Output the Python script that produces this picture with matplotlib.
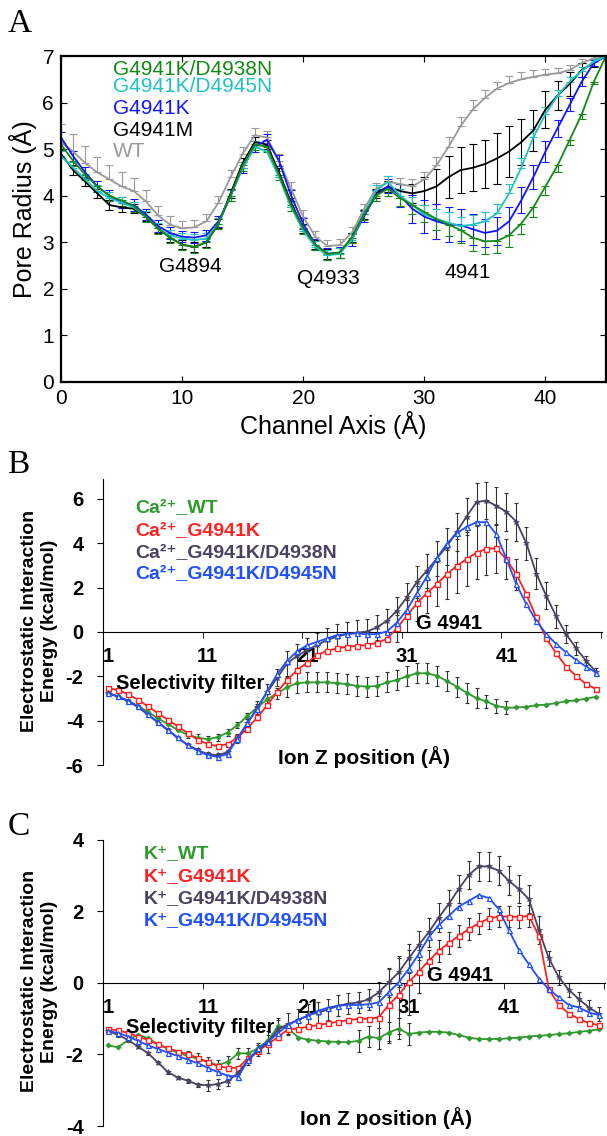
import matplotlib
matplotlib.use('Agg')
import matplotlib.pyplot as plt
import numpy as np

plt.rcParams['font.family'] = ['Liberation Sans', 'DejaVu Sans']
plt.rcParams['axes.unicode_minus'] = False

# ---------------- panel A: pore radius profiles ----------------
chan_x = np.arange(0, 46)

rad_green = [5.1, 4.75, 4.45, 4.2, 4.0, 3.9, 3.78, 3.55, 3.3, 3.1,
             2.95, 2.9, 3.0, 3.4, 4.0, 4.65, 5.1, 5.05, 4.45, 3.8,
             3.3, 2.95, 2.75, 2.78, 3.1, 3.6, 4.0, 4.15, 3.95, 3.8,
             3.65, 3.5, 3.38, 3.26, 3.1, 3.02, 3.03, 3.15, 3.4, 3.75,
             4.2, 4.65, 5.2, 5.75, 6.45, 7.0]
rad_cyan = [4.85, 4.6, 4.35, 4.1, 3.95, 3.85, 3.75, 3.55, 3.3, 3.15,
            3.08, 3.05, 3.08, 3.4, 4.0, 4.6, 5.05, 4.95, 4.4, 3.75,
            3.25, 2.9, 2.72, 2.75, 3.05, 3.6, 4.1, 4.3, 4.0, 3.8,
            3.6, 3.5, 3.42, 3.35, 3.38, 3.45, 3.62, 4.05, 4.6, 5.25,
            5.75, 6.15, 6.45, 6.68, 6.88, 7.0]
rad_blue = [5.25, 4.85, 4.5, 4.2, 4.0, 3.85, 3.8, 3.6, 3.35, 3.2,
            3.12, 3.1, 3.15, 3.45, 4.0, 4.6, 5.05, 5.2, 4.75, 4.0,
            3.4, 2.95, 2.75, 2.78, 3.05, 3.55, 4.0, 4.2, 4.0, 3.72,
            3.55, 3.45, 3.38, 3.37, 3.28, 3.2, 3.25, 3.45, 3.9, 4.4,
            4.95, 5.45, 5.95, 6.45, 6.85, 7.0]
rad_black = [4.9, 4.55, 4.3, 4.05, 3.8, 3.75, 3.72, 3.55, 3.3, 3.1,
             2.95, 2.9, 3.0, 3.4, 4.05, 4.7, 5.15, 5.1, 4.5, 3.85,
             3.3, 2.95, 2.75, 2.77, 3.1, 3.6, 4.05, 4.2, 4.1, 4.05,
             4.1, 4.2, 4.4, 4.55, 4.6, 4.68, 4.8, 4.95, 5.15, 5.4,
             5.85, 6.15, 6.4, 6.7, 6.85, 7.0]
rad_gray = [5.15, 4.95, 4.7, 4.5, 4.35, 4.2, 4.1, 3.88, 3.58, 3.38,
            3.3, 3.32, 3.45, 3.85, 4.4, 4.9, 5.3, 5.25, 4.75, 4.15,
            3.55, 3.12, 2.92, 2.94, 3.2, 3.7, 4.15, 4.3, 4.25, 4.2,
            4.35, 4.65, 5.05, 5.5, 5.85, 6.1, 6.3, 6.42, 6.5, 6.55,
            6.6, 6.63, 6.7, 6.85, 6.95, 7.0]

err_green = [0.12] * 27 + [0.15, 0.18, 0.2, 0.22, 0.24, 0.25, 0.27, 0.28, 0.28, 0.27,
                           0.25, 0.22, 0.2, 0.18, 0.15, 0.12, 0.1, 0.05, 0.0]
err_cyan = [0.12] * 27 + [0.12, 0.15, 0.18, 0.2, 0.22, 0.22, 0.2, 0.2, 0.2, 0.2,
                          0.2, 0.2, 0.18, 0.15, 0.12, 0.1, 0.08, 0.05, 0.0]
err_blue = [0.12] * 27 + [0.15, 0.25, 0.3, 0.35, 0.38, 0.38, 0.35, 0.33, 0.3, 0.3,
                          0.3, 0.28, 0.25, 0.22, 0.18, 0.14, 0.1, 0.06, 0.0]
err_black = [0.1] * 27 + [0.12, 0.15, 0.2, 0.3, 0.38, 0.45, 0.5, 0.5, 0.52, 0.55,
                          0.55, 0.5, 0.45, 0.4, 0.32, 0.25, 0.15, 0.08, 0.0]
err_gray = [0.4, 0.38, 0.36, 0.34, 0.32, 0.3, 0.28, 0.25, 0.2, 0.18,
            0.15, 0.15, 0.15, 0.15, 0.15, 0.15, 0.15, 0.15, 0.15, 0.15,
            0.15, 0.12, 0.12, 0.12, 0.12, 0.12, 0.12, 0.12, 0.12, 0.15,
            0.15, 0.18, 0.2, 0.2, 0.2, 0.18, 0.15, 0.15, 0.15, 0.15,
            0.12, 0.12, 0.1, 0.08, 0.05, 0.0]

names_A = ['G4941K/D4938N', 'G4941K/D4945N', 'G4941K', 'G4941M', 'WT']
colors_A = ['#138a13', '#22c2c2', '#1414ff', 'black', '#9a9a9a']

# ---------------- panels B and C: electrostatic energy ----------------
ion_z = np.arange(1, 51)

ca_wt = [-2.76, -2.9, -3.09, -3.33, -3.59, -3.89, -4.14, -4.41, -4.64, -4.76,
         -4.83, -4.74, -4.53, -4.19, -3.78, -3.39, -3.03, -2.76, -2.48, -2.3,
         -2.27, -2.27, -2.27, -2.3, -2.35, -2.43, -2.46, -2.43, -2.27, -2.16,
         -2.0, -1.86, -1.86, -1.97, -2.2, -2.46, -2.73, -2.98, -3.13, -3.33,
         -3.41, -3.4, -3.37, -3.3, -3.27, -3.2, -3.12, -3.08, -3.0, -2.92]
ca_g4941k = [-2.52, -2.62, -2.8, -3.05, -3.35, -3.65, -3.95, -4.25, -4.55, -4.85,
             -5.05, -5.14, -5.05, -4.75, -4.35, -3.84, -3.29, -2.69, -2.16, -1.71,
             -1.38, -1.04, -0.84, -0.74, -0.66, -0.63, -0.59, -0.48, -0.32, 0.17,
             0.72, 1.29, 1.74, 2.15, 2.6, 2.97, 3.29, 3.57, 3.75, 3.77,
             3.27, 2.6, 1.71, 0.66, -0.29, -0.96, -1.56, -1.98, -2.34, -2.57]
ca_d4938n = [-2.75, -2.92, -3.12, -3.38, -3.72, -4.08, -4.42, -4.78, -5.08, -5.32,
             -5.5, -5.55, -5.42, -4.78, -4.12, -3.4, -2.7, -2.05, -1.41, -1.07,
             -0.81, -0.59, -0.36, -0.21, -0.09, -0.03, 0.02, 0.21, 0.5, 0.96,
             1.56, 2.25, 2.75, 3.3, 3.85, 4.5, 5.2, 5.85, 5.92, 5.68,
             5.42, 4.97, 4.0, 2.63, 1.63, 0.7, -0.1, -0.73, -1.3, -1.79]
ca_d4945n = [-2.75, -2.9, -3.1, -3.35, -3.7, -4.05, -4.4, -4.75, -5.1, -5.35,
             -5.55, -5.62, -5.5, -4.8, -4.1, -3.45, -2.65, -1.89, -1.29, -0.86,
             -0.6, -0.44, -0.29, -0.14, -0.09, -0.06, -0.11, -0.09, 0.02, 0.42,
             0.99, 1.74, 2.49, 3.32, 3.96, 4.44, 4.74, 4.94, 4.95, 4.4,
             3.29, 2.15, 1.26, 0.51, -0.09, -0.54, -0.92, -1.26, -1.56, -1.83]

ca_wt_err = [0.0] * 8 + [0.15] * 8 + [0.25, 0.25] + [0.45] * 20 + [0.3] * 3 + [0.0] * 9
ca_g4941k_err = [0.0] * 29 + [0.6, 0.7, 0.8, 0.9, 1.0, 1.1, 1.2, 1.2, 1.2, 1.2, 1.1, 0.9, 0.7] + [0.0] * 8
ca_d4938n_err = ([0.1] * 13 + [0.2, 0.25, 0.3, 0.35, 0.4] + [0.55] * 11
                 + [0.6, 0.65, 0.7, 0.75, 0.8] + [0.85] * 8
                 + [0.75, 0.7, 0.6, 0.5, 0.4, 0.3, 0.2, 0.15])

k_wt = [-1.75, -1.8, -1.6, -1.45, -1.55, -1.72, -1.85, -1.95, -2.05, -2.12,
        -2.22, -2.3, -2.2, -1.97, -1.97, -1.82, -1.6, -1.2, -1.28, -1.53,
        -1.59, -1.62, -1.64, -1.65, -1.66, -1.62, -1.5, -1.55, -1.39, -1.28,
        -1.43, -1.39, -1.37, -1.37, -1.39, -1.46, -1.53, -1.57, -1.57, -1.57,
        -1.55, -1.53, -1.5, -1.48, -1.46, -1.43, -1.41, -1.37, -1.34, -1.3]
k_g4941k = [-1.29, -1.33, -1.4, -1.5, -1.6, -1.72, -1.83, -1.92, -2.0, -2.1,
            -2.22, -2.33, -2.38, -2.37, -2.1, -1.9, -1.7, -1.51, -1.29, -1.28,
            -1.22, -1.18, -1.13, -1.09, -1.04, -1.01, -1.0, -0.97, -0.62, -0.34,
            0.01, 0.31, 0.61, 0.89, 1.11, 1.31, 1.5, 1.66, 1.8, 1.85,
            1.85, 1.84, 1.87, 1.31, -0.18, -0.62, -0.86, -1.01, -1.13, -1.18]
k_d4938n = [-1.35, -1.45, -1.6, -1.78, -1.97, -2.23, -2.5, -2.65, -2.74, -2.85,
            -2.86, -2.83, -2.74, -2.51, -2.15, -1.9, -1.65, -1.29, -1.15, -1.04,
            -0.9, -0.83, -0.74, -0.64, -0.58, -0.55, -0.46, -0.27, 0.01, 0.29,
            0.68, 1.05, 1.41, 1.82, 2.2, 2.62, 3.01, 3.25, 3.25, 3.13,
            2.85, 2.62, 2.34, 1.47, 0.68, 0.15, -0.2, -0.46, -0.69, -0.87]
k_d4945n = [-1.35, -1.4, -1.5, -1.62, -1.75, -1.85, -1.95, -2.05, -2.15, -2.25,
            -2.38, -2.5, -2.6, -2.62, -2.15, -1.83, -1.65, -1.39, -1.18, -1.03,
            -0.92, -0.78, -0.69, -0.64, -0.62, -0.62, -0.6, -0.55, -0.27, 0.01,
            0.38, 0.8, 1.27, 1.61, 1.87, 2.13, 2.29, 2.45, 2.37, 2.06,
            1.47, 0.92, 0.52, 0.12, -0.18, -0.41, -0.62, -0.69, -0.83, -0.9]

k_wt_err = [0.0] * 8 + [0.15] * 11 + [0.0] * 6 + [0.3] * 6 + [0.0] * 19
k_g4941k_err = [0.0] * 27 + [0.6, 1.0, 1.1, 0.9, 0.6] + [0.3] * 11 + [0.0] * 7
k_d4938n_err = [0.05] * 10 + [0.15] * 6 + [0.3] * 12 + [0.4] * 16 + [0.2] * 6

colors_E = ['#2e9a2e', '#ff2222', '#4a4260', '#1f4fff']

W, H = 607, 1136
fig = plt.figure(figsize=(W / 100, H / 100), dpi=100)

# ---------------- draw A ----------------
axA = fig.add_axes([61 / W, 1 - 382 / H, 545 / W, 326 / H])
series_A = [(rad_gray, err_gray, 4, 'up'), (rad_black, err_black, 3, 'both'),
            (rad_blue, err_blue, 2, 'both'), (rad_cyan, err_cyan, 1, 'up'),
            (rad_green, err_green, 0, 'down')]
for y, e, ci, side in series_A:
    e = np.array(e)
    lo = e if side in ('down', 'both') else np.zeros_like(e)
    up = e if side in ('up', 'both') else np.zeros_like(e)
    axA.errorbar(chan_x, y, yerr=[lo, up], color=colors_A[ci], lw=1.3,
                 elinewidth=0.8, capsize=3, capthick=0.8)

axA.set_xlim(0, 45)
axA.set_ylim(0, 7)
axA.set_xticks([0, 10, 20, 30, 40])
axA.set_yticks(range(8))
axA.tick_params(direction='in', top=True, right=True, length=4, labelsize=15, pad=5)
for sp in axA.spines.values():
    sp.set_linewidth(1.6)
axA.set_ylabel('Pore Radius (Å)', fontsize=18)
axA.yaxis.label.set_va('center')
axA.yaxis.set_label_coords(-0.07, 0.53)
axA.set_xlabel('Channel Axis (Å)', fontsize=18, labelpad=2)

leg_y = [0.960, 0.905, 0.840, 0.773, 0.706]
for name, c, ly in zip(names_A, colors_A, leg_y):
    axA.text(0.095, ly, name, color=c, fontsize=15, va='center', transform=axA.transAxes)
axA.text(10.7, 2.47, 'G4894', fontsize=15, ha='center', va='center')
axA.text(22.1, 2.23, 'Q4933', fontsize=15, ha='center', va='center')
axA.text(33.6, 2.36, '4941', fontsize=15, ha='center', va='center')


def energy_panel(ax, curves, errs, labels, ylim, yticks, leg_x, leg_ys, g_pos, sf_pos, xl_pos):
    markers = [dict(marker='D', ms=2.6, mfc=colors_E[0], mew=0.5),
               dict(marker='s', ms=3.6, mfc='white', mew=1.0),
               dict(marker='*', ms=4.2, mfc=colors_E[2], mew=0.5),
               dict(marker='^', ms=3.6, mfc='white', mew=0.9)]
    for i, y in enumerate(curves):
        if errs[i] is not None:
            ax.errorbar(ion_z, y, yerr=errs[i], fmt='none', ecolor='#333333',
                        elinewidth=0.8, capsize=1.5, capthick=0.8, zorder=2)
    for i, y in enumerate(curves):
        ax.plot(ion_z, y, color=colors_E[i], lw=1.3, mec=colors_E[i], zorder=3, **markers[i])
    ax.set_xlim(0.5, 50.6)
    ax.set_ylim(*ylim)
    ax.spines['top'].set_visible(False)
    ax.spines['right'].set_visible(False)
    ax.spines['bottom'].set_position(('data', 0))
    ax.set_xticks([1, 11, 21, 31, 41])
    ax.set_xticks([10.5, 20.5, 30.5, 40.5, 50.5], minor=True)
    ax.tick_params(axis='x', which='major', length=0, pad=11, labelsize=14.5)
    ax.tick_params(axis='x', which='minor', length=4, direction='out')
    ax.set_yticks(yticks)
    ax.tick_params(axis='y', length=4, direction='out', pad=10, labelsize=14.5)
    for lbl in ax.get_xticklabels() + ax.get_yticklabels():
        lbl.set_fontweight('bold')
    ax.set_ylabel('Electrostatic Interaction\nEnergy (kcal/mol)', fontsize=14,
                  fontweight='bold', linespacing=1.25)
    ax.yaxis.label.set_va('center')
    ax.yaxis.set_label_coords(-0.127, 0.505)
    for name, c, ly in zip(labels, colors_E, leg_ys):
        ax.text(leg_x, ly, name, color=c, fontsize=14, fontweight='bold',
                va='center', transform=ax.transAxes)
    ax.text(g_pos[0], g_pos[1], 'G 4941', fontsize=14.5, fontweight='bold',
            ha='center', va='center')
    ax.text(sf_pos[0], sf_pos[1], 'Selectivity filter', fontsize=14.5,
            fontweight='bold', ha='left', va='center')
    ax.text(xl_pos[0], xl_pos[1], 'Ion Z position (Å)', fontsize=15,
            fontweight='bold', ha='center', va='center', transform=ax.transAxes)


axB = fig.add_axes([103 / W, 1 - 765.2 / H, 499 / W, 286.4 / H])
energy_panel(axB, [ca_wt, ca_g4941k, ca_d4938n, ca_d4945n],
             [ca_wt_err, ca_g4941k_err, ca_d4938n_err, None],
             ['Ca²⁺_WT', 'Ca²⁺_G4941K', 'Ca²⁺_G4941K/D4938N', 'Ca²⁺_G4941K/D4945N'],
             (-6, 6.9), [-6, -4, -2, 0, 2, 4, 6], 0.064,
             [0.898, 0.818, 0.741, 0.668], (35.2, 0.4), (1.8, -2.3), (0.523, 0.029))

axC = fig.add_axes([103 / W, 1 - 1126 / H, 502 / W, 286.4 / H])
energy_panel(axC, [k_wt, k_g4941k, k_d4938n, k_d4945n],
             [k_wt_err, k_g4941k_err, k_d4938n_err, None],
             ['K⁺_WT', 'K⁺_G4941K', 'K⁺_G4941K/D4938N', 'K⁺_G4941K/D4945N'],
             (-4, 4), [-4, -2, 0, 2, 4], 0.082,
             [0.950, 0.870, 0.793, 0.716], (36.1, 0.2), (2.8, -1.26), (0.563, 0.029))

for letter, ly in [('A', 24), ('B', 465), ('C', 827)]:
    fig.text(0.012, 1 - ly / H, letter, fontsize=24, family='Liberation Serif', va='center')

fig.savefig('out.png', dpi=100)
